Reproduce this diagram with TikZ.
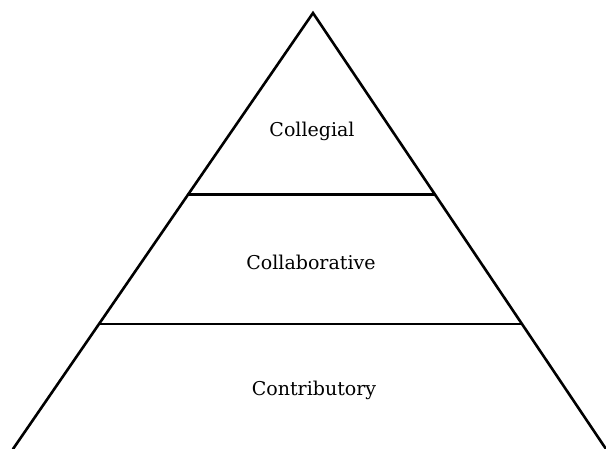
\documentclass[tikz,border=0pt]{standalone}
\usepackage{fontspec}
\setmainfont{DejaVu Serif}
\usetikzlibrary{calc}
\begin{document}
\begin{tikzpicture}[x=1pt,y=-1pt,
  edge/.style={line width=2.6pt,line cap=round,line join=miter},
  label/.style={font=\fontsize{19}{22}\selectfont,inner sep=0pt}]
\useasboundingbox (0,0) rectangle (606,448);
\coordinate (apex) at (313,13);
\coordinate (bl) at (13,449);
\coordinate (br) at (606,449);
\coordinate (l1) at ($(apex)!0.416!(bl)$);
\coordinate (r1) at ($(apex)!0.416!(br)$);
\coordinate (l2) at ($(apex)!0.713!(bl)$);
\coordinate (r2) at ($(apex)!0.713!(br)$);
\draw[edge] (bl) -- (apex) -- (br);
\draw[edge] (l1) -- (r1);
\draw[edge] (l2) -- (r2);
\node[label] (t1) at (312,131) {Collegial};
\node[label] (t2) at (311,262) {Collaborative};
\node[label] (t3) at (314,390) {Contributory};
\end{tikzpicture}
\end{document}
